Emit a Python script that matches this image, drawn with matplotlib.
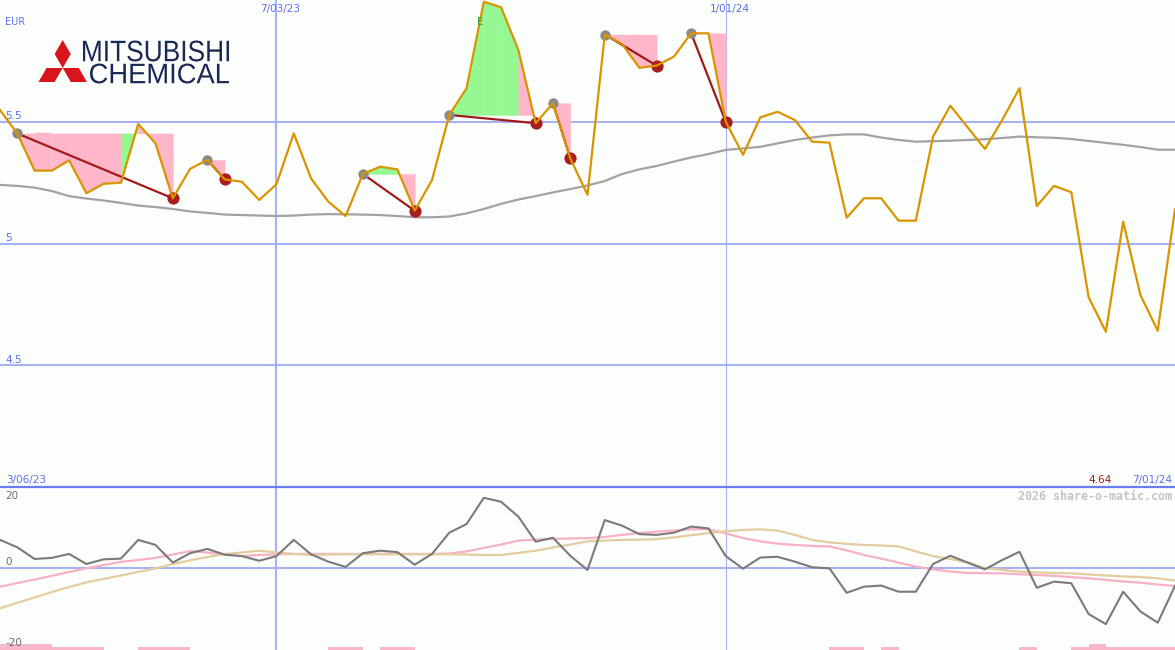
import numpy as np
import matplotlib
matplotlib.use("Agg")
import matplotlib.pyplot as plt
from matplotlib.textpath import TextPath
from matplotlib.patches import PathPatch, Polygon
from matplotlib.font_manager import FontProperties
from matplotlib.transforms import Affine2D, blended_transform_factory, offset_copy
from matplotlib.lines import Line2D

# ---------------- data (weekly) ----------------
price = [5.549, 5.453, 5.300, 5.300, 5.342, 5.207, 5.246, 5.250, 5.492, 5.412,
         5.186, 5.307, 5.344, 5.264, 5.254, 5.179, 5.244, 5.453, 5.268, 5.172,
         5.113, 5.286, 5.316, 5.305, 5.135, 5.261, 5.529, 5.639, 5.995, 5.972,
         5.796, 5.495, 5.577, 5.351, 5.200, 5.860, 5.821, 5.723, 5.732, 5.769,
         5.865, 5.865, 5.501, 5.365, 5.519, 5.542, 5.508, 5.419, 5.415, 5.106,
         5.186, 5.186, 5.094, 5.094, 5.440, 5.567, 5.478, 5.389, 5.508, 5.639,
         5.154, 5.237, 5.211, 4.779, 4.637, 5.090, 4.788, 4.641, 5.141]

moving_avg = [5.241, 5.237, 5.230, 5.216, 5.195, 5.185, 5.177, 5.167, 5.156, 5.150,
              5.142, 5.132, 5.126, 5.119, 5.117, 5.115, 5.113, 5.115, 5.119, 5.121,
              5.120, 5.119, 5.117, 5.113, 5.108, 5.108, 5.111, 5.124, 5.142, 5.163,
              5.181, 5.195, 5.210, 5.224, 5.239, 5.257, 5.286, 5.305, 5.319, 5.337,
              5.354, 5.368, 5.385, 5.391, 5.398, 5.412, 5.426, 5.436, 5.445, 5.449,
              5.449, 5.436, 5.426, 5.419, 5.421, 5.423, 5.426, 5.429, 5.434, 5.440,
              5.437, 5.435, 5.430, 5.422, 5.414, 5.406, 5.397, 5.386, 5.386]

osc = [7.8, 5.75, 2.5, 2.8, 3.9, 1.1, 2.4, 2.6, 7.8, 6.4,
       1.5, 4.1, 5.3, 3.7, 3.3, 2.0, 3.3, 7.8, 3.8, 1.75,
       0.3, 4.1, 4.8, 4.4, 0.9, 3.9, 9.8, 12.2, 19.5, 18.4,
       14.25, 7.3, 8.4, 3.4, -0.55, 13.3, 11.75, 9.4, 9.2, 9.8,
       11.5, 11.0, 3.3, -0.2, 2.9, 3.1, 1.75, 0.2, -0.1, -6.9,
       -5.2, -4.9, -6.6, -6.6, 1.1, 3.4, 1.5, -0.4, 2.2, 4.5,
       -5.5, -3.8, -4.25, -12.8, -15.6, -6.6, -12.1, -15.2, -5.0]

osc_fast = [-5.2, -4.2, -3.2, -2.2, -1.1, -0.1, 0.8, 1.7, 2.2, 2.8,
            3.75, 4.7, 4.3, 3.75, 3.3, 3.6, 3.8, 3.9, 3.9, 3.9,
            3.9, 3.9, 3.9, 3.9, 3.9, 3.9, 4.0, 4.6, 5.6, 6.5,
            7.6, 7.9, 8.05, 8.2, 8.3, 8.6, 9.2, 9.7, 10.1, 10.4,
            10.75, 10.75, 9.6, 8.3, 7.4, 6.75, 6.4, 6.1, 6.0, 4.9,
            3.6, 2.6, 1.5, 0.4, -0.4, -1.0, -1.4, -1.45, -1.5, -1.75,
            -1.95, -2.2, -2.55, -2.9, -3.3, -3.75, -4.1, -4.6, -5.0]

osc_slow = [-11.2, -9.7, -8.2, -6.7, -5.3, -4.0, -3.05, -2.1, -1.1, -0.15,
            1.1, 2.1, 3.05, 3.9, 4.3, 4.8, 4.3, 3.9, 3.6, 3.75,
            3.8, 3.8, 3.8, 3.8, 3.8, 3.8, 3.8, 3.75, 3.6, 3.6,
            4.2, 4.8, 5.7, 6.5, 7.4, 7.6, 7.8, 7.85, 8.0, 8.5,
            9.1, 9.7, 10.2, 10.55, 10.75, 10.35, 9.2, 7.8, 7.1, 6.7,
            6.4, 6.25, 6.0, 4.6, 3.3, 2.5, 1.5, 0.0, -0.55, -1.0,
            -1.25, -1.4, -1.5, -1.8, -2.1, -2.35, -2.5, -2.9, -3.5]

peak_idx = [1, 12, 21, 26, 32, 35, 40]
trough_idx = [10, 13, 24, 31, 33, 38, 42]

bar_start = [0, 3, 8, 19, 22, 48, 51, 59, 62, 63, 64]
bar_end = [3, 6, 11, 21, 24, 50, 52, 60, 63, 64, 68]
bar_top = [-21.1, -22.0, -22.0, -22.0, -22.0, -22.0, -22.0, -22.0, -22.0, -21.1, -22.0]

price_ticks = [5.5, 5.0, 4.5]
price_tick_labels = ["5.5", "5", "4.5"]
osc_ticks = [20, 0, -20]
osc_tick_labels = ["20", "0", "-20"]
date_grid_idx = [16, 42]
date_grid_labels = ["7/03/23", "1/01/24"]
date_grid_width = [1.5, 0.8]
start_label = "3/06/23"
end_label = "7/01/24"
last_label = "4.64"
currency = "EUR"
credit = "2026 share-o-matic.com"

# ---------------- style ----------------
W, H = 1175, 650
BG = "#fcfefc"
GRID = "#a6b2f4"
BLUE_TXT = "#5b6ff2"
ORANGE = "#d99500"
PINK_FILL = "#ffb6c9"
GREEN_FILL = "#95f893"

fig = plt.figure(figsize=(W / 100, H / 100), dpi=100)
fig.patch.set_facecolor(BG)

split = 487
ax = fig.add_axes([0, (H - split) / H, 1, split / H])
ax2 = fig.add_axes([0, 0, 1, (H - split) / H])
for a in (ax, ax2):
    a.set_facecolor(BG)
    a.set_xlim(0, len(price) - 1)
    a.axis("off")
ax.set_ylim(3.998, 6.002)
ax2.set_ylim(-22.8, 22.5)

x = np.arange(len(price))
p = np.array(price)

# grid
for v in price_ticks:
    ax.axhline(v, color=GRID, lw=1.5, zorder=0.5)
for gi, lw in zip(date_grid_idx, date_grid_width):
    ax.axvline(gi, color=GRID, lw=lw, zorder=0.5)
    ax2.axvline(gi, color=GRID, lw=lw, zorder=0.5)
ax2.axhline(0, color=GRID, lw=1.5, zorder=0.5)
fig.add_artist(Line2D([0, 1], [(H - split) / H] * 2, transform=fig.transFigure,
                      color="#6a7cee", lw=1.6))

# pattern fills
for s, e in zip(peak_idx, trough_idx):
    lvl = p[s]
    for i in range(s, e):
        c = GREEN_FILL if p[i + 1] > lvl else PINK_FILL
        ax.fill_between([i, i + 1], [p[i], p[i + 1]], lvl, facecolor=c,
                        edgecolor=c, lw=0.3, zorder=1)

ax.plot(x, moving_avg, color="#a2a2a2", lw=1.6, zorder=2)
for s, e in zip(peak_idx, trough_idx):
    ax.plot([s, e], [p[s], p[e]], color="#a01a1c", lw=1.6, zorder=3)
ax.plot(peak_idx, p[peak_idx], "o", ms=7.5, color="#8a8a8a", mec="none", zorder=4)
ax.plot(trough_idx, p[trough_idx], "o", ms=8.8, color="#a81e1e", mec="none", zorder=4)
ax.plot(x, p, color=ORANGE, lw=1.6, zorder=5)
ax.text(27.8, 5.913, "E", color="#2f9e2f", fontsize=7, ha="center", va="center", zorder=6)

# lower panel
ax2.bar(bar_start, np.array(bar_top) + 23.0, width=np.array(bar_end) - np.array(bar_start),
        bottom=-23.0, align="edge", color="#f9b8ca", lw=0, zorder=1)
ax2.plot(x, osc_fast, color="#f8b0c6", lw=1.6, zorder=2)
ax2.plot(x, osc_slow, color="#e4cc9e", lw=1.6, zorder=2)
ax2.plot(x, osc, color="#7a7a7a", lw=1.5, zorder=3)

# labels
fs = 7.5
ty = blended_transform_factory(ax.transAxes, ax.transData)
for v, lab in zip(price_ticks, price_tick_labels):
    ax.text(5 / W, v, lab, transform=offset_copy(ty, fig, y=2.5, units="dots"),
            color=BLUE_TXT, fontsize=fs, ha="left", va="baseline", zorder=7)
tx = blended_transform_factory(ax.transData, ax.transAxes)
for gi, lab in zip(date_grid_idx, date_grid_labels):
    ax.text(gi, 1 - 12 / split, lab, transform=offset_copy(tx, fig, x=4, units="dots"),
            color=BLUE_TXT, fontsize=fs, ha="center", va="baseline", zorder=7)
ax.text(5 / W, 1 - 25 / split, currency, transform=ax.transAxes, color=BLUE_TXT,
        fontsize=7, ha="left", va="baseline")
ax.text(6 / W, 4 / split, start_label, transform=ax.transAxes, color=BLUE_TXT,
        fontsize=fs, ha="left", va="baseline")
ax.text(1 - 3 / W, 4 / split, end_label, transform=ax.transAxes, color=BLUE_TXT,
        fontsize=fs, ha="right", va="baseline")
ax.text(1 - 63 / W, 4 / split, last_label, transform=ax.transAxes, color="#a01818",
        fontsize=fs, ha="right", va="baseline")

ty2 = blended_transform_factory(ax2.transAxes, ax2.transData)
offs = {"20": -3.5, "0": 3, "-20": -6}
for v, lab in zip(osc_ticks, osc_tick_labels):
    ax2.text(5 / W, v, lab, transform=offset_copy(ty2, fig, y=offs[lab], units="dots"),
             color="#6e6e6e", fontsize=fs, ha="left", va="baseline", zorder=7)
ax2.text(1 - 3 / W, 1 - 13 / (H - split), credit, transform=ax2.transAxes,
         color="#c4c4c4", fontsize=8.4, family="DejaVu Sans Mono", weight="bold",
         ha="right", va="baseline")

# ---------------- logo (decoration, pixel coordinates) ----------------
ov = fig.add_axes([0, 0, 1, 1])
ov.set_xlim(0, W)
ov.set_ylim(H, 0)
ov.axis("off")
ov.patch.set_alpha(0)

RED = "#d9141c"
NAVY = "#1b2855"
cx, cy = 62.7, 68.0
L = 28.0
w = L / np.sqrt(3)
base = np.array([[0, 0], [w / 2, L / 2], [0, L], [-w / 2, L / 2]])  # y-up
for ang in (0, 120, -120):
    a = np.deg2rad(ang)
    R = np.array([[np.cos(a), -np.sin(a)], [np.sin(a), np.cos(a)]])
    pts = base @ R.T
    pix = np.column_stack([cx + pts[:, 0], cy - pts[:, 1]])
    ov.add_patch(Polygon(pix, closed=True, facecolor=RED, edgecolor="none"))

fp = FontProperties(family="Liberation Sans")


def put_text(s, x0, x1, ytop, ybot):
    tp = TextPath((0, 0), s, size=20, prop=fp)
    bb = tp.get_extents()
    sx = (x1 - x0) / bb.width
    sy = (ybot - ytop) / bb.height
    tr = Affine2D().translate(-bb.x0, -bb.y0).scale(sx, -sy).translate(x0, ybot)
    ov.add_patch(PathPatch(tr.transform_path(tp), facecolor=NAVY, edgecolor="none"))


put_text("MITSUBISHI", 83, 229, 40.5, 61.5)
put_text("CHEMICAL", 90, 229, 63.5, 83.5)

fig.savefig("out.png", dpi=100, facecolor=BG)
